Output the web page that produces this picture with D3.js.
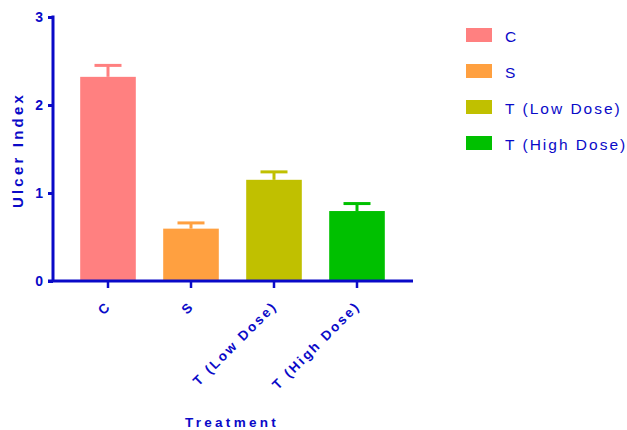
<!DOCTYPE html>
<html lang="en">
<head>
    <meta charset="UTF-8">
    <title>Ulcer Index</title>
    <script src="https://d3js.org/d3.v7.min.js"></script>
    <style>
        body { margin: 0; background: #fff; }
        text { font-family: "Liberation Sans", Arial, sans-serif; fill: #0a0ac8; }
    </style>
</head>
<body>
    <script>
        const categories = ["C", "S", "T (Low Dose)", "T (High Dose)"];
        const means = [2.32, 0.595, 1.15, 0.795];
        const errors = [0.13, 0.065, 0.09, 0.085];
        const yTicks = [0, 1, 2, 3];
        const colors = ["#ff8080", "#ffa040", "#c0c000", "#00c000"];

        const axisColor = "#0a0ac8";
        const width = 627, height = 430;

        const svg = d3.select("body").append("svg")
            .attr("width", width)
            .attr("height", height);

        const x = d3.scaleBand()
            .domain(categories)
            .range([66.5, 398.5])
            .paddingInner(0.33)
            .paddingOuter(0.165);

        const y = d3.scaleLinear()
            .domain([0, 3])
            .range([281, 17]);

        const color = d3.scaleOrdinal().domain(categories).range(colors);

        const data = categories.map((c, i) => ({ cat: c, mean: means[i], err: errors[i] }));

        // bars
        svg.append("g").selectAll("rect")
            .data(data)
            .enter().append("rect")
            .attr("x", d => x(d.cat))
            .attr("y", d => y(d.mean))
            .attr("width", x.bandwidth())
            .attr("height", d => y(0) - y(d.mean))
            .attr("fill", d => color(d.cat));

        // error bars (upper only)
        const eb = svg.append("g").selectAll("g")
            .data(data)
            .enter().append("g")
            .attr("stroke", d => color(d.cat))
            .attr("stroke-width", 3);
        eb.append("line")
            .attr("x1", d => x(d.cat) + x.bandwidth() / 2)
            .attr("x2", d => x(d.cat) + x.bandwidth() / 2)
            .attr("y1", d => y(d.mean))
            .attr("y2", d => y(d.mean + d.err));
        eb.append("line")
            .attr("x1", d => x(d.cat) + x.bandwidth() / 2 - 13.5)
            .attr("x2", d => x(d.cat) + x.bandwidth() / 2 + 13.5)
            .attr("y1", d => y(d.mean + d.err))
            .attr("y2", d => y(d.mean + d.err));

        // y axis
        const yAxis = svg.append("g")
            .attr("transform", "translate(53,0)")
            .call(d3.axisLeft(y).tickValues(yTicks).tickFormat(d3.format("d")).tickSize(5).tickSizeOuter(0));
        yAxis.selectAll("path, line").attr("stroke", axisColor).attr("stroke-width", 3);
        yAxis.selectAll("text")
            .attr("x", -10)
            .style("font-size", "14px")
            .style("font-weight", "bold");
        yAxis.select(".domain").attr("d", `M0,${y(3) - 1.5}V${y(0)}`);

        // x axis
        const xAxis = svg.append("g")
            .attr("transform", `translate(0,${y(0)})`)
            .call(d3.axisBottom(x).tickSize(7).tickSizeOuter(0));
        xAxis.select(".domain").attr("d", "M48,0H413");
        xAxis.selectAll("path, line").attr("stroke", axisColor).attr("stroke-width", 3);
        xAxis.selectAll(".tick line").attr("stroke-width", 2.5);
        xAxis.selectAll("text")
            .attr("text-anchor", "end")
            .attr("x", 0).attr("y", 0).attr("dy", 0)
            .attr("transform", "translate(4,26) rotate(-45)")
            .style("font-size", "13.5px")
            .style("font-weight", "bold")
            .style("letter-spacing", "2.3px");

        // axis titles
        svg.append("text")
            .attr("transform", "translate(23,150) rotate(-90)")
            .attr("text-anchor", "middle")
            .style("font-size", "15px")
            .style("font-weight", "bold")
            .style("letter-spacing", "3.2px")
            .text("Ulcer Index");

        svg.append("text")
            .attr("x", 232)
            .attr("y", 427)
            .attr("text-anchor", "middle")
            .style("font-size", "13.5px")
            .style("font-weight", "bold")
            .style("letter-spacing", "3.3px")
            .text("Treatment");

        // legend
        const legend = svg.append("g").attr("transform", "translate(466,28)");
        categories.forEach((c, i) => {
            const row = legend.append("g").attr("transform", `translate(0,${i * 36})`);
            row.append("rect")
                .attr("width", 26)
                .attr("height", 14)
                .attr("fill", color(c));
            row.append("text")
                .attr("x", 39)
                .attr("y", 14)
                .style("font-size", "15.5px")
                .style("letter-spacing", "2px")
                .text(c);
        });
    </script>
</body>
</html>
